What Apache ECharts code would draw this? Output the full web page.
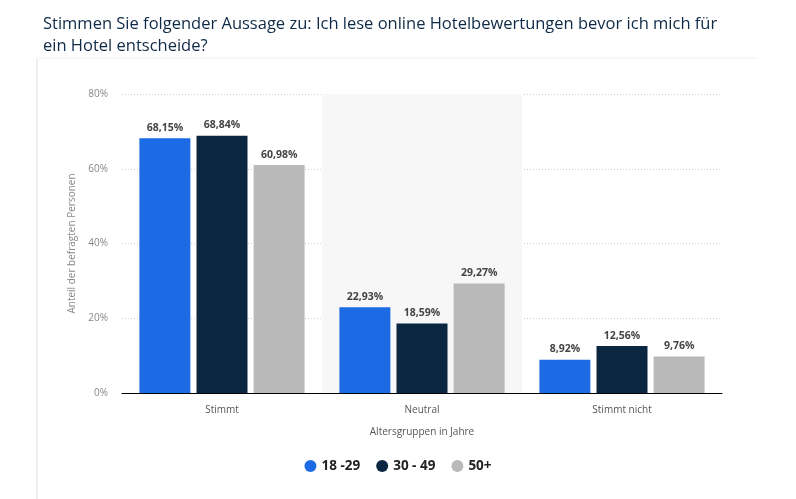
<!DOCTYPE html>
<html><head><meta charset="utf-8">
<script src="https://cdn.jsdelivr.net/npm/echarts@6/dist/echarts.min.js"></script>
<style>html,body{margin:0;padding:0;background:#fff;}#c{width:796px;height:499px;}</style>
</head><body><div id="c"></div>
<script>
const categories = ['Stimmt', 'Neutral', 'Stimmt nicht'];
const seriesNames = ['18 -29', '30 - 49', '50+'];
const v18_29 = [68.15, 22.93, 8.92];
const v30_49 = [68.84, 18.59, 12.56];
const v50plus = [60.98, 29.27, 9.76];
const colors = ['#1c6be4', '#0b2640', '#b9b9b9'];
const yTicks = [0, 20, 40, 60, 80];

const chart = echarts.init(document.getElementById('c'));
const fmt = v => v.toFixed(2).replace('.', ',') + '%';
const mk = (name, data, color) => ({
  name, type: 'bar', data, barWidth: 51, barGap: '12%',
  itemStyle: { color },
  label: { show: true, position: 'top', distance: 5, formatter: p => fmt(p.value),
    color: '#444', fontSize: 10.5, fontWeight: 'bold', fontFamily: 'Open Sans' }
});
chart.setOption({
  animation: false,
  title: {
    text: 'Stimmen Sie folgender Aussage zu: Ich lese online Hotelbewertungen bevor ich mich für\nein Hotel entscheide?',
    left: 38, top: 8,
    textStyle: { color: '#0f2a46', fontSize: 16.5, fontWeight: 'normal', fontFamily: 'Open Sans', lineHeight: 22 }
  },
  graphic: [
    { type: 'rect', shape: { x: 36, y: 58, width: 2, height: 441 }, style: { fill: '#eeeeee' }, z: -1 },
    { type: 'rect', shape: { x: 36, y: 57, width: 720, height: 2 }, style: { fill: '#f8f8f8' }, z: -1 }
  ],
  grid: { left: 122, right: 74, top: 94, bottom: 106 },
  legend: {
    bottom: 21, left: 'center', icon: 'circle', itemWidth: 12, itemHeight: 12, itemGap: 16,
    textStyle: { color: '#222', fontSize: 13.5, fontWeight: 'bold', fontFamily: 'Open Sans' },
    data: seriesNames
  },
  xAxis: {
    type: 'category', data: categories,
    name: 'Altersgruppen in Jahre', nameLocation: 'middle', nameGap: 34,
    nameTextStyle: { color: '#555', fontSize: 10, fontFamily: 'Open Sans' },
    axisLine: { lineStyle: { color: '#000', width: 1 } },
    axisTick: { show: false },
    axisLabel: { color: '#555', fontSize: 10, margin: 12, fontFamily: 'Open Sans' },
    splitArea: { show: true, areaStyle: { color: ['rgba(255,255,255,0)', '#f7f7f7'] } }
  },
  yAxis: {
    type: 'value', min: 0, max: 80, interval: 20,
    name: 'Anteil der befragten Personen', nameLocation: 'middle', nameGap: 42,
    nameTextStyle: { color: '#888', fontSize: 10, fontFamily: 'Open Sans' },
    axisLabel: { color: '#888', fontSize: 10, margin: 14, fontFamily: 'Open Sans',
      formatter: v => yTicks.includes(v) ? v + '%' : '' },
    axisLine: { show: false }, axisTick: { show: false },
    splitLine: { lineStyle: { color: '#cfcfcf', type: [1, 2] } }
  },
  series: [mk(seriesNames[0], v18_29, colors[0]), mk(seriesNames[1], v30_49, colors[1]), mk(seriesNames[2], v50plus, colors[2])]
});
</script></body></html>
